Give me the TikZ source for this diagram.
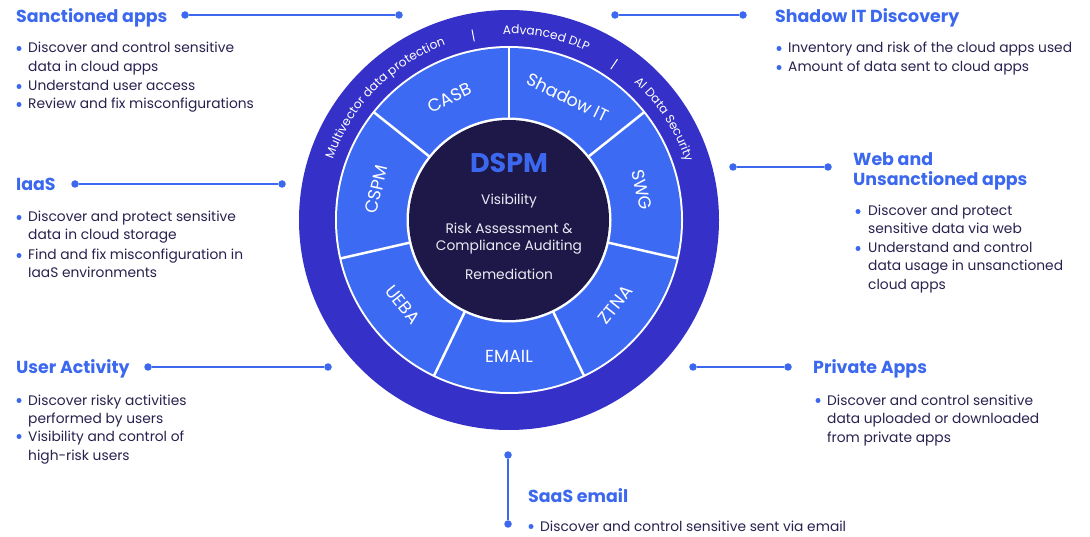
\documentclass[tikz,border=0pt]{standalone}
\usepackage{fontspec}
\setmainfont{Poppins}
\usetikzlibrary{decorations.text}
\definecolor{ringdark}{HTML}{3430C8}
\definecolor{segblue}{HTML}{3C6AF2}
\definecolor{navy}{HTML}{1E1848}
\definecolor{headblue}{HTML}{3B68EE}
\definecolor{bodyc}{HTML}{28224F}
\definecolor{centerwhite}{HTML}{ECEAF4}
\newcommand\headfont{\fontsize{17.4}{20}\selectfont\bfseries}
\newcommand\bodyfont{\fontsize{13.8}{16}\selectfont}
\newcommand\segfont{\fontsize{17.5}{20}\selectfont}
\newcommand\curvefont{\fontsize{12.2}{14}\selectfont\color{white}}
\begin{document}
\begin{tikzpicture}[x=1pt,y=1pt,
  head/.style={anchor=base west, inner sep=0, text=headblue, font=\headfont},
  body/.style={anchor=base west, inner sep=0, text=bodyc, font=\bodyfont},
  bul/.style={circle, fill=headblue, inner sep=0, minimum size=5pt},
  conn/.style={draw=headblue, line width=2.6pt},
  enddot/.style={circle, fill=headblue, inner sep=0, minimum size=7.5pt},
  seglabel/.style={text=white, font=\segfont, inner sep=0},
  ctext/.style={anchor=base, text=centerwhite, font=\bodyfont, inner sep=0},
  curved/.style={decorate, decoration={text along path, text align=center, text={|\curvefont|#1}}}
]
\fill[white] (0,0) rectangle (1090,536);
\useasboundingbox (0,0) rectangle (1090,536);

% ---------- wheel ----------
\begin{scope}[shift={(509,316)}]
  \fill[ringdark] (0,0) circle (210);
  \fill[white] (0,0) circle (174);
  \fill[segblue] (0,0) circle (172);
  \foreach \a in {0,...,6}
    \draw[white, line width=2.5pt] ({90-\a*360/7}:101) -- ({90-\a*360/7}:173);
  \fill[white] (0,0) circle (102.5);
  \fill[navy] (0,0) circle (100);

  \node[seglabel, rotate=25.71]  (casb)   at (115.71:136) {CASB};
  \node[seglabel, rotate=-25.71] (shadow) at (64.29:136)  {Shadow IT};
  \node[seglabel, rotate=-77.14] (swg)    at (12.86:136)  {SWG};
  \node[seglabel, rotate=51.43]  (ztna)   at (-38.57:136) {ZTNA};
  \node[seglabel]                (email)  at (-90:136)    {EMAIL};
  \node[seglabel, rotate=-51.43] (ueba)   at (-141.43:136){UEBA};
  \node[seglabel, rotate=77.14]  (cspm)   at (167.14:136) {CSPM};

  \node[anchor=base, inner sep=0, text=headblue, font=\fontsize{27}{30}\selectfont\bfseries] (dspm) at (0,47) {DSPM};
  \node[ctext] (c1) at (0,15)  {Visibility};
  \node[ctext] (c2) at (0,-14) {Risk Assessment \&};
  \node[ctext] (c3) at (0,-31) {Compliance Auditing};
  \node[ctext] (c4) at (0,-60) {Remediation};

  \path[curved={Multivector data protection}] (178:186) arc[start angle=178, end angle=93, radius=186];
  \path[curved={Advanced DLP}] (108:186) arc[start angle=108, end angle=49, radius=186];
  \path[curved={AI Data Security}] (70:186) arc[start angle=70, end angle=-4, radius=186];
  \draw[white, line width=1pt] (101:182) -- (101:194);
  \draw[white, line width=1pt] (56:182) -- (56:194);
\end{scope}

% ---------- Sanctioned apps ----------
\node[head] (hsa) at (16,513) {Sanctioned apps};
\node[enddot] (sa1) at (185,521) {};
\node[enddot] (sa2) at (399,521) {};
\draw[conn] (sa1) -- (sa2);
\node[bul] (bsa1) at (19,487.5) {};
\node[body] (tsa1) at (28,483) {Discover and control sensitive};
\node[body] (tsa2) at (28,464) {data in cloud apps};
\node[bul] (bsa2) at (19,449.5) {};
\node[body] (tsa3) at (28,445) {Understand user access};
\node[bul] (bsa3) at (19,431.5) {};
\node[body] (tsa4) at (28,427) {Review and fix misconfigurations};

% ---------- Shadow IT Discovery ----------
\node[head] (hsh) at (775,513) {Shadow IT Discovery};
\node[enddot] (sh1) at (615,521) {};
\node[enddot] (sh2) at (743,521) {};
\draw[conn] (sh1) -- (sh2);
\node[bul] (bsh1) at (779,487.5) {};
\node[body] (tsh1) at (788,483) {Inventory and risk of the cloud apps used};
\node[bul] (bsh2) at (779,468.5) {};
\node[body] (tsh2) at (788,464) {Amount of data sent to cloud apps};

% ---------- IaaS ----------
\node[head] (hia) at (16,345) {IaaS};
\node[enddot] (ia1) at (75,352) {};
\node[enddot] (ia2) at (282,352) {};
\draw[conn] (ia1) -- (ia2);
\node[bul] (bia1) at (19,318.5) {};
\node[body] (tia1) at (28,314) {Discover and protect sensitive};
\node[body] (tia2) at (28,296) {data in cloud storage};
\node[bul] (bia2) at (19,280.5) {};
\node[body] (tia3) at (28,276) {Find and fix misconfiguration in};
\node[body] (tia4) at (28,258) {IaaS environments};

% ---------- Web and Unsanctioned apps ----------
\node[head] (hwe1) at (853,370) {Web and};
\node[head] (hwe2) at (853,350) {Unsanctioned apps};
\node[enddot] (we1) at (733,369) {};
\node[enddot] (we2) at (828,369) {};
\draw[conn] (we1) -- (we2);
\node[bul] (bwe1) at (858,324.5) {};
\node[body] (twe1) at (868,320) {Discover and protect};
\node[body] (twe2) at (868,302) {sensitive data via web};
\node[bul] (bwe2) at (858,287.5) {};
\node[body] (twe3) at (868,283) {Understand and control};
\node[body] (twe4) at (868,265) {data usage in unsanctioned};
\node[body] (twe5) at (868,246) {cloud apps};

% ---------- User Activity ----------
\node[head] (hua) at (16,162) {User Activity};
\node[enddot] (ua1) at (148,169) {};
\node[enddot] (ua2) at (328,169) {};
\draw[conn] (ua1) -- (ua2);
\node[bul] (bua1) at (19,135.5) {};
\node[body] (tua1) at (28,131) {Discover risky activities};
\node[body] (tua2) at (28,113) {performed by users};
\node[bul] (bua2) at (19,99.5) {};
\node[body] (tua3) at (28,95) {Visibility and control of};
\node[body] (tua4) at (28,76) {high-risk users};

% ---------- Private Apps ----------
\node[head] (hpa) at (813,162) {Private Apps};
\node[enddot] (pa1) at (693,169) {};
\node[enddot] (pa2) at (788,169) {};
\draw[conn] (pa1) -- (pa2);
\node[bul] (bpa1) at (818,135.5) {};
\node[body] (tpa1) at (827,131) {Discover and control sensitive};
\node[body] (tpa2) at (827,113) {data uploaded or downloaded};
\node[body] (tpa3) at (827,94) {from private apps};

% ---------- SaaS email ----------
\node[head] (hse) at (528,34) {SaaS email};
\node[enddot] (se1) at (508,81) {};
\node[enddot] (se2) at (508,12) {};
\draw[conn] (se1) -- (se2);
\node[bul] (bse1) at (531,9.5) {};
\node[body] (tse1) at (540,5) {Discover and control sensitive sent via email};
\end{tikzpicture}
\end{document}
